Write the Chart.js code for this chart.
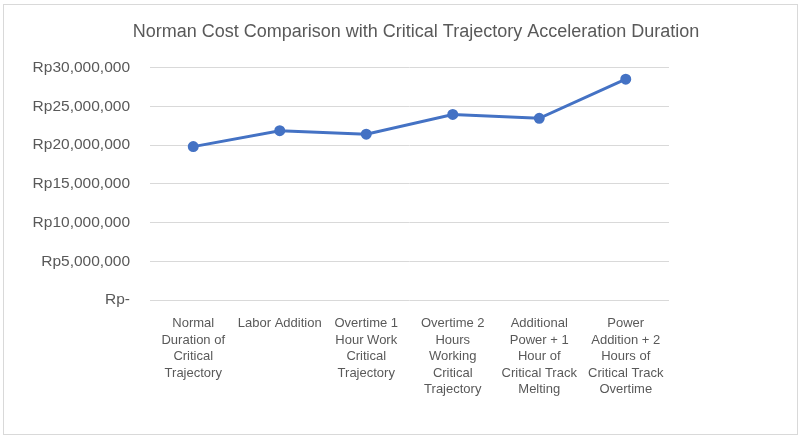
<!DOCTYPE html>
<html>
<head>
<meta charset="utf-8">
<script src="https://cdn.jsdelivr.net/npm/chart.js@4.4.1/dist/chart.umd.min.js"></script>
<style>
html,body{margin:0;padding:0;background:#fff;}
#wrap{position:relative;width:803px;height:438px;}
#frame{position:absolute;left:3px;top:4px;width:793px;height:429px;border:1px solid #d9d9d9;pointer-events:none;}
canvas{position:absolute;left:0;top:0;}
</style>
</head>
<body>
<div id="wrap">
<canvas id="c" width="803" height="438"></canvas>
<div id="frame"></div>
</div>
<script>
const titleText = "Norman Cost Comparison with Critical Trajectory Acceleration Duration";
const categories = [
  ["Normal", "Duration of", "Critical", "Trajectory"],
  ["Labor Addition"],
  ["Overtime 1", "Hour Work", "Critical", "Trajectory"],
  ["Overtime 2", "Hours", "Working", "Critical", "Trajectory"],
  ["Additional", "Power + 1", "Hour of", "Critical Track", "Melting"],
  ["Power", "Addition + 2", "Hours of", "Critical Track", "Overtime"]
];
const costValues = [19800000, 21850000, 21400000, 23950000, 23450000, 28500000];
const yMin = 0, yMax = 30000000, yStep = 5000000;

const fontFamily = "'Liberation Sans', 'DejaVu Sans', sans-serif";
const textColor = "#595959";

new Chart(document.getElementById('c'), {
  type: 'line',
  data: {
    labels: categories,
    datasets: [{
      label: 'Cost',
      data: costValues,
      yAxisID: 'y',
      borderColor: '#4472C4',
      backgroundColor: '#4472C4',
      borderWidth: 3,
      pointRadius: 4,
      pointHoverRadius: 4,
      pointBackgroundColor: '#4472C4',
      pointBorderColor: '#4472C4',
      tension: 0
    }]
  },
  options: {
    responsive: false,
    animation: false,
    devicePixelRatio: 1,
    layout: { padding: { left: 29, right: 0, top: 0, bottom: 10 } },
    plugins: {
      legend: { display: false },
      tooltip: { enabled: false },
      title: {
        display: true,
        text: titleText,
        color: textColor,
        font: { family: fontFamily, size: 18, weight: 'normal' },
        padding: { top: 21, bottom: 25 }
      }
    },
    scales: {
      x: {
        offset: true,
        grid: { display: false, drawTicks: false },
        border: { display: false },
        ticks: {
          color: textColor,
          font: { family: fontFamily, size: 13, lineHeight: 1.28 },
          padding: 15,
          maxRotation: 0,
          autoSkip: false
        },
        afterFit: (s) => { s.height = 128; }
      },
      y: {
        min: yMin,
        max: yMax,
        grid: { color: '#d9d9d9', drawTicks: false, lineWidth: 1 },
        border: { display: false },
        ticks: {
          stepSize: yStep,
          color: textColor,
          font: { family: fontFamily, size: 15.5 },
          padding: 20,
          callback: (v) => v === 0 ? 'Rp-' : 'Rp' + Number(v).toLocaleString('en-US')
        },
        afterFit: (s) => { s.width = 121; }
      },
      y2: {
        position: 'right',
        display: true,
        grid: { display: false, drawTicks: false },
        border: { display: false },
        ticks: { display: false },
        afterFit: (s) => { s.width = 134; }
      }
    }
  }
});
</script>
</body>
</html>
